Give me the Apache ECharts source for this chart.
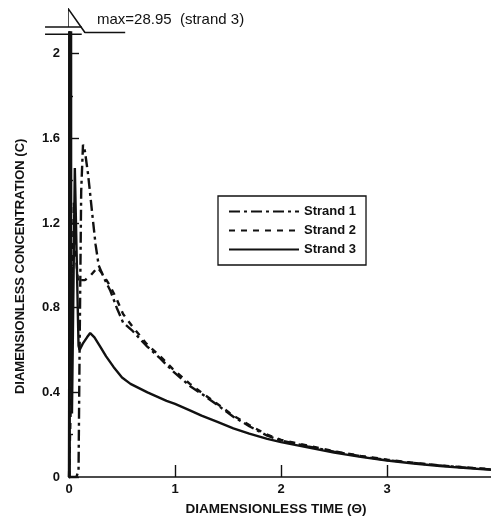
<!DOCTYPE html>
<html><head><meta charset="utf-8">
<script src="https://cdn.jsdelivr.net/npm/echarts@6/dist/echarts.min.js"></script>
<style>html,body{margin:0;padding:0;background:#fff}#c{width:491px;height:521px}</style>
</head><body><div id="c"></div>
<script>
// ---- data ----
const strand1Theta = [0, 0.07, 0.09, 0.1, 0.115, 0.132, 0.15, 0.18, 0.22, 0.25, 0.28, 0.33, 0.39, 0.45, 0.51, 0.6, 0.73, 0.86, 0.98, 1.14, 1.26, 1.4, 1.55, 1.7, 1.87, 2.0, 2.25, 2.5, 2.75, 3.0, 3.25, 3.5, 3.75, 3.98];
const strand1Conc  = [0, 0, 0.03, 0.6, 1.35, 1.57, 1.54, 1.43, 1.24, 1.1, 1.0, 0.94, 0.88, 0.8, 0.73, 0.69, 0.62, 0.56, 0.5, 0.43, 0.39, 0.34, 0.285, 0.24, 0.195, 0.172, 0.145, 0.12, 0.098, 0.08, 0.066, 0.054, 0.044, 0.036];
const strand2Theta = [0, 0.02, 0.045, 0.065, 0.085, 0.1, 0.15, 0.2, 0.27, 0.33, 0.39, 0.45, 0.51, 0.6, 0.73, 0.86, 0.98, 1.14, 1.26, 1.4, 1.55, 1.7, 1.87, 2.0, 2.25, 2.5, 2.75, 3.0, 3.25, 3.5, 3.75, 3.98];
const strand2Conc  = [0, 0.4, 1.3, 1.05, 0.92, 0.93, 0.93, 0.95, 0.99, 0.95, 0.9, 0.84, 0.77, 0.71, 0.63, 0.57, 0.51, 0.44, 0.395, 0.345, 0.29, 0.245, 0.2, 0.175, 0.148, 0.122, 0.1, 0.082, 0.067, 0.055, 0.045, 0.037];
const strand3Theta = [0, 0.004, 0.01, 0.02, 0.028, 0.055, 0.09, 0.1, 0.13, 0.17, 0.2, 0.24, 0.29, 0.35, 0.42, 0.5, 0.58, 0.66, 0.74, 0.83, 0.92, 1.0, 1.14, 1.25, 1.4, 1.55, 1.7, 1.87, 2.0, 2.25, 2.5, 2.75, 3.0, 3.25, 3.5, 3.75, 3.98];
const strand3Conc  = [0, 1.0, 28.95, 1.0, 0.3, 1.46, 0.62, 0.6, 0.63, 0.66, 0.68, 0.66, 0.62, 0.57, 0.52, 0.47, 0.44, 0.42, 0.40, 0.38, 0.36, 0.345, 0.315, 0.29, 0.26, 0.23, 0.205, 0.18, 0.165, 0.14, 0.115, 0.095, 0.078, 0.064, 0.052, 0.042, 0.034];
// schematic of the off-scale peak above the axis break
const peakMarkerTheta = [-0.01, -0.01, 0.15, 0.53];
const peakMarkerConc  = [2.126, 2.214, 2.1, 2.1];
const peakLabel = 'max=28.95  (strand 3)';
const seriesNames = ['Strand 1', 'Strand 2', 'Strand 3'];
const yMajorTicks = [0, 0.4, 0.8, 1.2, 1.6, 2];
const yMinorTicks = [0.2, 0.6, 1.0, 1.4, 1.8];
const xTicks = [0, 1, 2, 3];
const xTickMarks = [1, 2, 3];
const xTitle = 'DIAMENSIONLESS TIME (\u0398)';
const yTitle = 'DIAMENSIONLESS CONCENTRATION (C)';

const zip = (a, b) => a.map((v, i) => [v, b[i]]);
const ink = '#111';
const font = 'Liberation Sans, Arial, sans-serif';
const lw = 2.4;

const chart = echarts.init(document.getElementById('c'), null, {renderer: 'canvas'});
const yBase = {
  type: 'value', min: 0, max: 2.1, gridIndex: 0,
  splitLine: {show: false}
};
chart.setOption({
  backgroundColor: '#fff',
  animation: false,
  grid: {left: 69, right: 0, top: 32.5, bottom: 37, containLabel: false},
  legend: {
    data: seriesNames, orient: 'vertical', left: 218, top: 196,
    itemWidth: 70, itemHeight: 14, itemGap: 6,
    padding: [9, 10, 9, 10],
    borderColor: ink, borderWidth: 1.3, backgroundColor: '#fff',
    itemStyle: {color: 'rgba(0,0,0,0)', borderColor: 'rgba(0,0,0,0)', borderWidth: 0},
    textStyle: {fontFamily: font, fontSize: 13, fontWeight: 'bold', color: ink}
  },
  xAxis: {
    type: 'value', min: 0, max: 3.98, interval: 1,
    name: xTitle, nameLocation: 'middle', nameGap: 25,
    nameTextStyle: {fontFamily: font, fontSize: 13.5, fontWeight: 'bold', color: ink, padding: [0, 8, 0, 0]},
    axisLine: {lineStyle: {color: ink, width: 1.6}},
    axisTick: {inside: true, length: 12, customValues: xTickMarks, lineStyle: {color: ink, width: 1.4}},
    axisLabel: {customValues: xTicks, margin: 6, fontFamily: font, fontSize: 13, fontWeight: 'bold', color: ink},
    splitLine: {show: false}
  },
  yAxis: [
    Object.assign({}, yBase, {
      interval: 0.4,
      axisLine: {show: true, lineStyle: {color: ink, width: 2.8}},
      axisTick: {inside: true, length: 10, customValues: yMajorTicks, lineStyle: {color: ink, width: 1.4}},
      axisLabel: {customValues: yMajorTicks, margin: 9, fontFamily: font, fontSize: 13, fontWeight: 'bold', color: ink}
    }),
    Object.assign({}, yBase, {
      position: 'left', interval: 0.2,
      axisLine: {show: false},
      axisTick: {show: true, inside: true, length: 4, customValues: yMinorTicks, lineStyle: {color: ink, width: 1.4}},
      axisLabel: {show: false}
    })
  ],
  series: [
    {name: seriesNames[0], type: 'line', data: zip(strand1Theta, strand1Conc), symbol: 'none',
     lineStyle: {color: ink, width: lw, type: [11, 4, 3, 4]}, itemStyle: {color: ink}},
    {name: seriesNames[1], type: 'line', data: zip(strand2Theta, strand2Conc), symbol: 'none',
     lineStyle: {color: ink, width: lw, type: [6, 6]}, itemStyle: {color: ink}},
    {name: seriesNames[2], type: 'line', data: zip(strand3Theta, strand3Conc), symbol: 'none',
     lineStyle: {color: ink, width: lw}, itemStyle: {color: ink}},
    {name: 'peak', type: 'line', data: zip(peakMarkerTheta, peakMarkerConc), symbol: 'none', clip: false,
     lineStyle: {color: ink, width: 1.6}, itemStyle: {color: ink}, silent: true}
  ]
});

// axis-break marks and annotation text, placed via the axis scales
const p = (t, c) => chart.convertToPixel({gridIndex: 0}, [t, c]);
const b1a = p(-0.226, 2.126), b1b = p(0.12, 2.126);
const b2a = p(-0.226, 2.092), b2b = p(0.12, 2.092);
const lab = p(0.264, 2.158);
const yMid = p(0, 1.0);
chart.setOption({
  graphic: [
    {type: 'line', shape: {x1: b1a[0], y1: b1a[1], x2: b1b[0], y2: b1b[1]}, style: {stroke: ink, lineWidth: 1.6}},
    {type: 'line', shape: {x1: b2a[0], y1: b2a[1], x2: b2b[0], y2: b2b[1]}, style: {stroke: ink, lineWidth: 1.6}},
    {type: 'text', x: lab[0], y: lab[1], style: {text: peakLabel, fill: ink, font: '15px ' + font, textAlign: 'left', textVerticalAlign: 'middle'}},
    {type: 'text', x: 20, y: yMid[1] + 1, rotation: Math.PI / 2,
     style: {text: yTitle, fill: ink, font: 'bold 13px ' + font, textAlign: 'center', textVerticalAlign: 'middle'}}
  ]
});
</script>
</body></html>
